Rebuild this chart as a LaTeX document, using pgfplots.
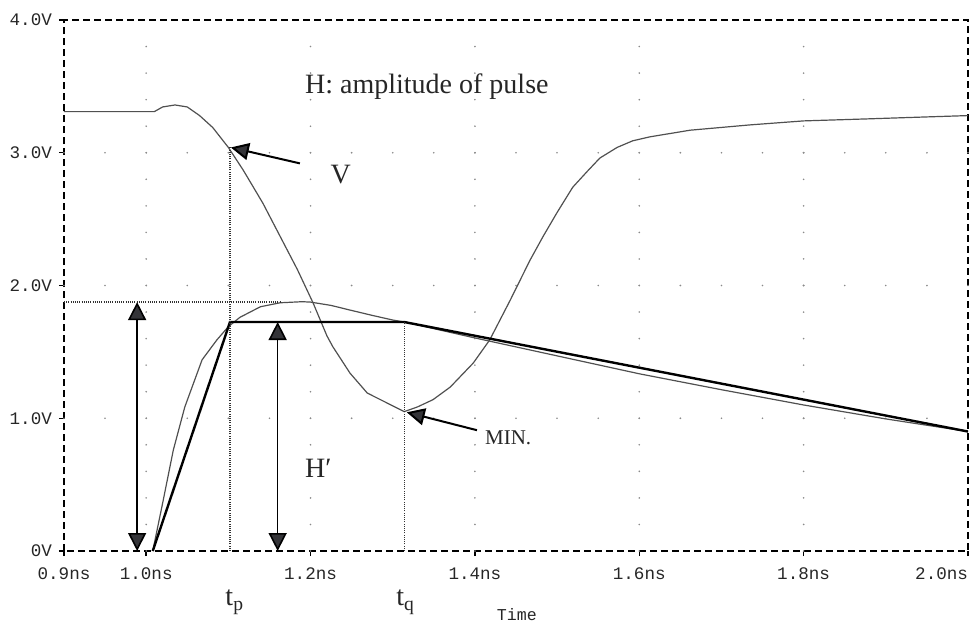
\documentclass[border=0pt]{standalone}
\usepackage{fontspec}
\setmainfont{Liberation Serif}
\setmonofont{Liberation Mono}
\usepackage{pgfplots}
\pgfplotsset{compat=1.18}
\usetikzlibrary{arrows.meta}

\definecolor{trace}{HTML}{505050}
\definecolor{headfill}{HTML}{343438}
\definecolor{gridgray}{HTML}{8A8A8A}

\tikzset{
  griddotv/.style={gridgray, line width=0.9pt, line cap=round, dash pattern=on 0pt off 13.275pt},
  griddoth/.style={gridgray, line width=0.9pt, line cap=round, dash pattern=on 0pt off 20.545pt},
  guide/.style={black!80, line width=0.7pt, dash pattern=on 0.5pt off 0.6pt},
  dbl/.style={black, line width=0.8pt,
    {Triangle[length=9pt,width=9pt,fill=headfill]}-{Triangle[length=9pt,width=9pt,fill=headfill]}},
  pointer/.style={black, line width=1pt, -{Triangle[length=9pt,width=8.5pt,fill=headfill]}},
}

\begin{document}
\begin{tikzpicture}
\useasboundingbox (-32pt,-38.5pt) rectangle (455pt,275.5pt);
\begin{axis}[
  scale only axis, width=452pt, height=265.5pt,
  xmin=0.9, xmax=2.0, ymin=0, ymax=4,
  clip=false,
  axis line style={line width=0.8pt, dash pattern=on 3.5pt off 2pt},
  xtick={0.9,1.0,1.2,1.4,1.6,1.8,2.0},
  xticklabels={0.9ns,1.0ns,1.2ns,1.4ns,1.6ns,1.8ns,\makebox[0pt][r]{2.0ns}},
  ytick={0,1,2,3,4},
  yticklabels={0V,1.0V,2.0V,3.0V,4.0V},
  tick pos=left, tick align=outside, major tick length=2.5pt,
  tick style={line width=0.7pt, black, solid},
  ticklabel style={font=\fontsize{8.8}{9}\selectfont\ttfamily, text=black!85},
  xticklabel style={yshift=-2.5pt},
]

% dotted grid
\pgfplotsinvokeforeach{1.0,1.2,1.4,1.6,1.8}{
  \draw[griddotv] (axis cs:#1,0) -- (axis cs:#1,4);
}
\pgfplotsinvokeforeach{1,2,3}{
  \draw[griddoth] (axis cs:0.9,#1) -- (axis cs:2.0,#1);
}

% signal V
\addplot[trace, line width=0.6pt] coordinates {
  (0.9,3.31)(1.010,3.31)(1.020,3.345)(1.035,3.36)(1.050,3.345)(1.065,3.28)
  (1.081,3.19)(1.100,3.04)(1.118,2.87)(1.142,2.62)(1.163,2.37)(1.184,2.12)
  (1.203,1.87)(1.220,1.62)(1.227,1.54)(1.248,1.34)(1.269,1.19)(1.314,1.05)
  (1.330,1.085)(1.349,1.14)(1.370,1.235)(1.398,1.416)(1.418,1.59)(1.443,1.89)
  (1.467,2.19)(1.483,2.37)(1.500,2.55)(1.519,2.74)(1.536,2.855)(1.552,2.96)
  (1.573,3.04)(1.592,3.09)(1.613,3.12)(1.662,3.17)(1.735,3.21)(1.800,3.24)
  (1.877,3.255)(1.950,3.27)(2.0,3.28)
};

% pulse
\addplot[trace, line width=0.6pt] coordinates {
  (1.008,0)(1.020,0.36)(1.033,0.76)(1.047,1.085)(1.068,1.44)(1.086,1.59)
  (1.100,1.69)(1.114,1.76)(1.139,1.84)(1.163,1.87)(1.190,1.878)(1.200,1.875)
  (1.225,1.85)(1.248,1.815)(1.275,1.775)(1.300,1.74)(1.314,1.725)(1.350,1.675)
  (1.400,1.605)(1.500,1.47)(1.600,1.335)(1.700,1.215)(1.800,1.10)(1.900,0.995)
  (2.0,0.90)
};

% trapezoidal approximation
\addplot[black, line width=1.2pt] coordinates {
  (1.008,0)(1.102,1.725)(1.314,1.725)(2.0,0.90)
};

% guide lines
\draw[guide] (axis cs:1.102,0) -- (axis cs:1.102,3.04);
\draw[guide] (axis cs:1.314,0) -- (axis cs:1.314,1.725);
\draw[guide] (axis cs:0.9,1.875) -- (axis cs:1.165,1.875);

% amplitude arrows
\draw[dbl] (axis cs:0.989,0) -- (axis cs:0.989,1.875);
\draw[dbl] (axis cs:1.160,0) -- (axis cs:1.160,1.725);

% pointers
\draw[pointer] (axis cs:1.187,2.92) -- (axis cs:1.103,3.04);
\draw[pointer] (axis cs:1.4025,0.91) -- (axis cs:1.317,1.045);

% annotations
\node[anchor=base west, inner sep=0, font=\fontsize{14}{14}\selectfont, text=black!85]
  at (axis cs:1.193,3.45) {H: amplitude of pulse};
\node[anchor=base west, inner sep=0, font=\fontsize{14}{14}\selectfont, text=black!85]
  at (axis cs:1.224,2.77) {V};
\node[anchor=base west, inner sep=0, font=\fontsize{10.5}{11}\selectfont, text=black!85]
  at (axis cs:1.412,0.80) {MIN.};
\node[anchor=base west, inner sep=0, font=\fontsize{14}{14}\selectfont, text=black!85]
  at (axis cs:1.193,0.557) {H′};
\node[anchor=base west, inner sep=0, font=\fontsize{14}{14}\selectfont, text=black!85]
  at (axis cs:1.096,-0.414) {t\textsubscript{p}};
\node[anchor=base west, inner sep=0, font=\fontsize{14}{14}\selectfont, text=black!85]
  at (axis cs:1.304,-0.414) {t\textsubscript{q}};
\node[anchor=base, inner sep=0, font=\fontsize{8.3}{9}\selectfont\ttfamily, text=black!85]
  at (axis cs:1.451,-0.52) {Time};
\end{axis}
\end{tikzpicture}
\end{document}
